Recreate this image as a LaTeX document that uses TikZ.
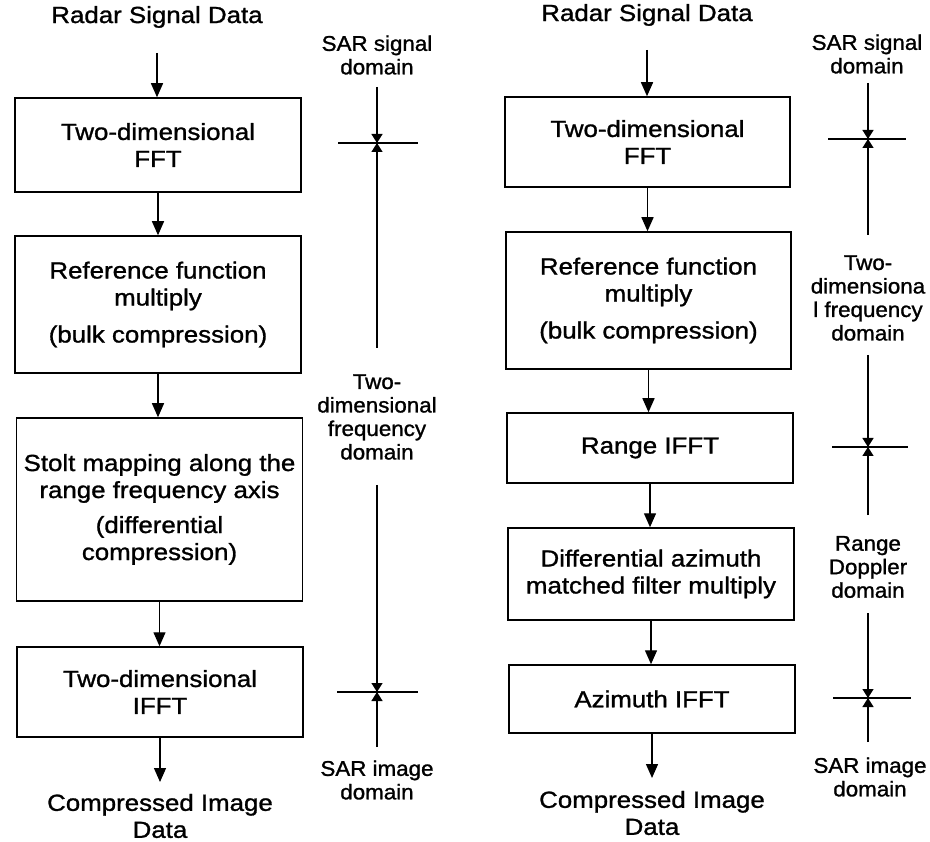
\documentclass[tikz,border=0pt]{standalone}
\usepackage{fontspec}
\setmainfont{Liberation Sans}[FakeStretch=1.11, FakeBold=1.2]
\newfontfamily\labfont{Liberation Sans}[FakeStretch=1.05, FakeBold=1.2]
\usetikzlibrary{arrows.meta}
\begin{document}
\begin{tikzpicture}[x=1pt,y=-1pt,
  font=\fontsize{23.3}{27}\selectfont,
  box/.style={draw, line width=1.5pt, minimum width=286pt, align=center, inner sep=0pt},
  flow/.style={-{Triangle[length=14pt,width=12pt]}, line width=1.4pt},
  dom/.style={-{Triangle[length=9pt,width=11pt]}, line width=1.3pt},
  tickline/.style={line width=1.3pt},
  lbl/.style={align=center, inner sep=0pt, font=\labfont\fontsize{21.3}{23.5}\selectfont}]
\useasboundingbox (0,0) rectangle (930,842);

% ---------------- left chain ----------------
\node[inner sep=0pt] (LT) at (157,17) {Radar Signal Data};
\node[box, minimum height=94pt] (L1) at (158,145) {Two-dimensional\\FFT};
\node[box, minimum height=137pt] (L2) at (158,304.5) {Reference function\\multiply\\[10pt](bulk compression)};
\node[box, minimum height=183pt] (L3) at (159.5,509.5) {Stolt mapping along the\\range frequency axis\\[8pt](differential\\compression)};
\node[box, minimum height=90pt] (L4) at (160,692) {Two-dimensional\\IFFT};
\node[inner sep=0pt, align=center] (LB) at (160,816) {Compressed Image\\Data};

\draw[flow] (157,53) coordinate (LTa) -- (LTa |- L1.north);
\draw[flow] (L1.south) -- (L1.south |- L2.north);
\draw[flow] (L2.south) -- (L2.south |- L3.north);
\draw[flow] (L3.south) -- (L3.south |- L4.north);
\draw[flow] (L4.south) -- (160,782) coordinate (LBa);

% left domains
\node[lbl] (ls1) at (377,55) {SAR signal\\domain};
\node[lbl] (lf1) at (377,417) {Two-\\dimensional\\frequency\\domain};
\node[lbl] (li1) at (377,780) {SAR image\\domain};
\coordinate (lt1) at (377,143);
\coordinate (lt2) at (377,692);
\coordinate (la1) at (377,87);
\coordinate (la2) at (377,348);
\coordinate (la3) at (377,485);
\coordinate (la4) at (377,747);
\draw[tickline] ([xshift=-39pt]lt1) -- ([xshift=41pt]lt1);
\draw[tickline] ([xshift=-40pt]lt2) -- ([xshift=41pt]lt2);
\draw[dom] (la1) -- (lt1);
\draw[dom] (la2) -- (lt1);
\draw[dom] (la3) -- (lt2);
\draw[dom] (la4) -- (lt2);

% ---------------- right chain ----------------
\node[inner sep=0pt] (RT) at (647,15) {Radar Signal Data};
\node[box, minimum height=90pt, minimum width=285pt] (R1) at (647.5,142) {Two-dimensional\\FFT};
\node[box, minimum height=137pt, minimum width=285pt] (R2) at (648.5,300.5) {Reference function\\multiply\\[10pt](bulk compression)};
\node[box, minimum height=70pt] (R3) at (650,448) {Range IFFT};
\node[box, minimum height=92pt] (R4) at (651,574) {Differential azimuth\\matched filter multiply};
\node[box, minimum height=68pt] (R5) at (652,699) {Azimuth IFFT};
\node[inner sep=0pt, align=center] (RB) at (652,813) {Compressed Image\\Data};

\draw[flow] (647,50) coordinate (RTa) -- (RTa |- R1.north);
\draw[flow] (R1.south) -- (R1.south |- R2.north);
\draw[flow] (R2.south) -- (R2.south |- R3.north);
\draw[flow] (R3.south) -- (R3.south |- R4.north);
\draw[flow] (R4.south) -- (R4.south |- R5.north);
\draw[flow] (R5.south) -- (652,778) coordinate (RBa);

% right domains
\node[lbl] (rs1) at (867,54) {SAR signal\\domain};
\node[lbl] (rf1) at (868,298) {Two-\\dimensiona\\l frequency\\domain};
\node[lbl] (rr1) at (868,567) {Range\\Doppler\\domain};
\node[lbl] (ri1) at (870,777) {SAR image\\domain};
\coordinate (rt1) at (868,139);
\coordinate (rt2) at (868,447);
\coordinate (rt3) at (868,698);
\coordinate (ra1) at (868,83);
\coordinate (ra2) at (868,235);
\coordinate (ra3) at (868,355);
\coordinate (ra4) at (868,515);
\coordinate (ra5) at (868,613);
\coordinate (ra6) at (868,742);
\draw[tickline] ([xshift=-40pt]rt1) -- ([xshift=38pt]rt1);
\draw[tickline] ([xshift=-36pt]rt2) -- ([xshift=40pt]rt2);
\draw[tickline] ([xshift=-35pt]rt3) -- ([xshift=43pt]rt3);
\draw[dom] (ra1) -- (rt1);
\draw[dom] (ra2) -- (rt1);
\draw[dom] (ra3) -- (rt2);
\draw[dom] (ra4) -- (rt2);
\draw[dom] (ra5) -- (rt3);
\draw[dom] (ra6) -- (rt3);
\end{tikzpicture}
\end{document}
